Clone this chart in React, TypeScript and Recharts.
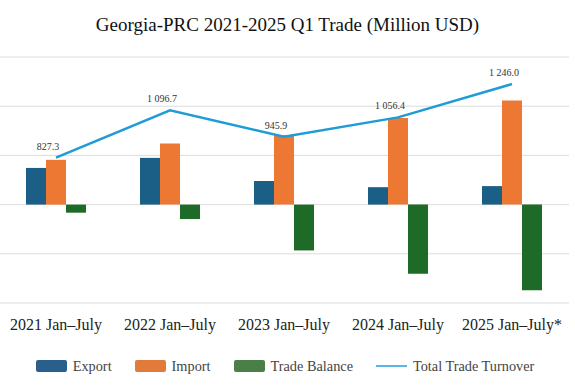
import React from 'react';
import { ComposedChart, Bar, Line, XAxis, YAxis, CartesianGrid, Legend, LabelList } from 'recharts';

const categories = ['2021 Jan–July', '2022 Jan–July', '2023 Jan–July', '2024 Jan–July', '2025 Jan–July*'];
const exportValues = [372.6, 475.0, 240.0, 177.0, 188.0];
const importValues = [454.7, 621.7, 705.9, 879.4, 1058.0];
const balanceValues = [-82.1, -146.7, -465.9, -702.4, -870.0];
const turnoverValues = [827.3, 1096.7, 945.9, 1056.4, 1246.0];
const leftTicks = [-1000, -500, 0, 500, 1000, 1500];

const data = categories.map((c, i) => ({
  name: c,
  exp: exportValues[i],
  imp: importValues[i],
  bal: balanceValues[i],
  tot: turnoverValues[i],
}));

const FONT = '"Liberation Serif", "Times New Roman", serif';

const fmt = (v: number) => {
  const [i, d] = v.toFixed(1).split('.');
  return i.replace(/\B(?=(\d{3})+(?!\d))/g, ' ') + '.' + d;
};

const legendItems = [
  { label: 'Export', color: '#2a5f8c', type: 'rect' },
  { label: 'Import', color: '#e27a3c', type: 'rect' },
  { label: 'Trade Balance', color: '#4a8048', type: 'rect' },
  { label: 'Total Trade Turnover', color: '#5ab6e6', type: 'line' },
];

const LegendContent = () => (
  <div style={{ display: 'flex', justifyContent: 'center', alignItems: 'center', fontFamily: FONT, fontSize: 14.3, lineHeight: '18px', color: '#444' }}>
    {legendItems.map((it, idx) => (
      <div key={it.label} style={{ display: 'flex', alignItems: 'center', marginLeft: idx === 0 ? 0 : 23 }}>
        {it.type === 'rect' ? (
          <div style={{ width: 31, height: 12, background: it.color, borderRadius: 2 }} />
        ) : (
          <div style={{ width: 31, height: 2, background: it.color }} />
        )}
        <span style={{ marginLeft: 6 }}>{it.label}</span>
      </div>
    ))}
  </div>
);

const LineLabel = (props: any) => {
  const { x, y, value } = props;
  return (
    <text x={x - 8} y={y - 8} textAnchor="middle" fontSize={10} fontFamily={FONT} fill="#333">
      {fmt(value)}
    </text>
  );
};

export default function App() {
  return (
    <div style={{ position: 'absolute', left: 0, top: 0, width: 575, height: 390, background: '#fff' }}>
      <div
        style={{
          position: 'absolute',
          top: 12,
          left: 0,
          width: 575,
          textAlign: 'center',
          fontFamily: FONT,
          fontSize: 19,
          lineHeight: '26px',
          color: '#111',
        }}
      >
        Georgia-PRC 2021-2025 Q1 Trade (Million USD)
      </div>
      <div style={{ position: 'absolute', left: -1, top: 0 }}>
        <ComposedChart
          width={572}
          height={390}
          data={data}
          margin={{ top: 57, right: 2, left: 0, bottom: 29 }}
          barCategoryGap={27}
          barGap={0}
        >
          <CartesianGrid yAxisId="left" vertical={false} stroke="#dcdcdc" strokeWidth={1} />
          <XAxis
            dataKey="name"
            axisLine={false}
            tickLine={false}
            interval={0}
            height={40}
            tickMargin={10}
            tick={{ fontFamily: FONT, fontSize: 16, fill: '#222' }}
          />
          <YAxis yAxisId="left" hide domain={[-1000, 1500]} ticks={leftTicks} />
          <YAxis yAxisId="right" orientation="right" hide domain={[0, 1400]} />
          <Legend
            verticalAlign="bottom"
            content={LegendContent}
            wrapperStyle={{ position: 'absolute', top: 357, left: 0, width: 572, bottom: 'auto' }}
          />
          <Bar yAxisId="left" dataKey="exp" name="Export" fill="#1b5e86" isAnimationActive={false} />
          <Bar yAxisId="left" dataKey="imp" name="Import" fill="#ec7834" isAnimationActive={false} />
          <Bar yAxisId="left" dataKey="bal" name="Trade Balance" fill="#1e6b27" isAnimationActive={false} />
          <Line
            yAxisId="right"
            dataKey="tot"
            name="Total Trade Turnover"
            stroke="#1f9cd6"
            strokeWidth={2.5}
            dot={false}
            isAnimationActive={false}
          >
            <LabelList dataKey="tot" content={LineLabel} />
          </Line>
        </ComposedChart>
      </div>
    </div>
  );
}
